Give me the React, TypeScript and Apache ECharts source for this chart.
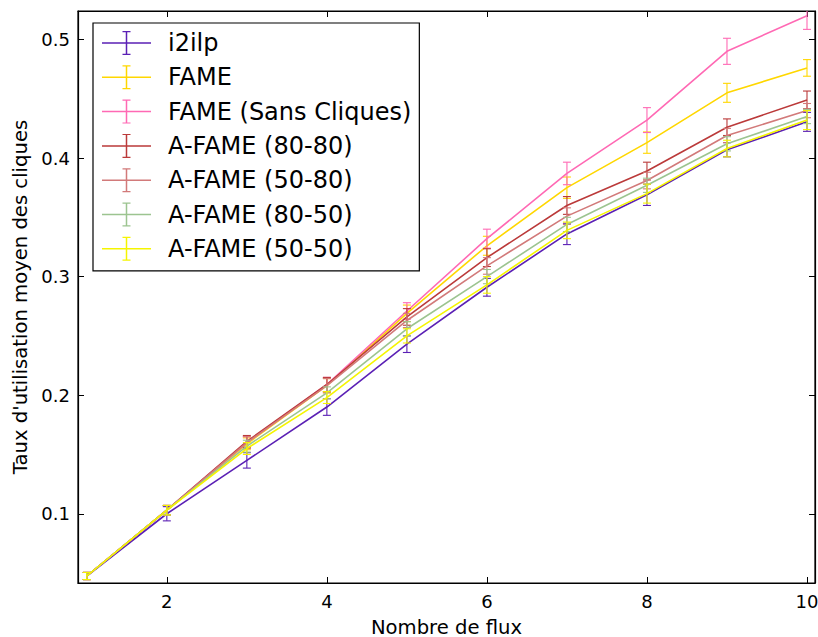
import React, { useEffect, useRef } from "react";
import * as echarts from "echarts";

const flux = [1, 2, 3, 4, 5, 6, 7, 8, 9, 10];
const xTicks = [2, 4, 6, 8, 10];
const yTicks = [0.1, 0.2, 0.3, 0.4, 0.5];

const names = [
  "i2ilp",
  "FAME",
  "FAME (Sans Cliques)",
  "A-FAME (80-80)",
  "A-FAME (50-80)",
  "A-FAME (80-50)",
  "A-FAME (50-50)",
];
const colors = ["#5b20b5", "#ffd700", "#ff69b4", "#bb3a3a", "#d27a7a", "#9cc490", "#f5f500"];

const i2ilp = [0.0475, 0.1, 0.145, 0.19, 0.243, 0.291, 0.336, 0.369, 0.407, 0.4305];
const fame = [0.0475, 0.103, 0.159, 0.208, 0.269, 0.326, 0.375, 0.413, 0.455, 0.476];
const fameSans = [0.0475, 0.103, 0.16, 0.209, 0.271, 0.332, 0.387, 0.432, 0.49, 0.52];
const afame8080 = [0.0475, 0.103, 0.161, 0.209, 0.266, 0.316, 0.36, 0.389, 0.426, 0.449];
const afame5080 = [0.0475, 0.103, 0.16, 0.208, 0.263, 0.309, 0.351, 0.381, 0.419, 0.44];
const afame8050 = [0.0475, 0.103, 0.157, 0.202, 0.256, 0.3, 0.344, 0.377, 0.412, 0.435];
const afame5050 = [0.0475, 0.103, 0.155, 0.198, 0.25, 0.293, 0.339, 0.37, 0.408, 0.432];

const errI2ilp = [0.003, 0.006, 0.0065, 0.007, 0.007, 0.0075, 0.009, 0.009, 0.006, 0.008];
const errFame = [0.003, 0.004, 0.005, 0.006, 0.007, 0.008, 0.009, 0.009, 0.008, 0.007];
const errFameSans = [0.003, 0.004, 0.005, 0.006, 0.007, 0.008, 0.0095, 0.0105, 0.011, 0.0115];
const err8080 = [0.003, 0.004, 0.005, 0.006, 0.007, 0.0075, 0.0075, 0.0075, 0.007, 0.0075];
const err5080 = [0.003, 0.004, 0.005, 0.006, 0.006, 0.007, 0.007, 0.007, 0.006, 0.006];
const err8050 = [0.003, 0.004, 0.005, 0.005, 0.006, 0.006, 0.006, 0.006, 0.006, 0.006];
const err5050 = [0.003, 0.004, 0.005, 0.005, 0.006, 0.007, 0.007, 0.008, 0.007, 0.008];

const means = [i2ilp, fame, fameSans, afame8080, afame5080, afame8050, afame5050];
const errs = [errI2ilp, errFame, errFameSans, err8080, err5080, err8050, err5050];

const FONT = "DejaVu Sans";
const legendIcon =
  "path://M0,11.25 h49 v1.5 h-49 z M23.75,0 h1.5 v24 h-1.5 z M20.5,0 h8 v1.2 h-8 z M20.5,22.8 h8 v1.2 h-8 z";

export default function App() {
  const ref = useRef<HTMLDivElement>(null);
  useEffect(() => {
    if (!ref.current) return;
    const chart = echarts.init(ref.current, undefined, { renderer: "svg" });
    const series: any[] = [];
    names.forEach((name, i) => {
      series.push({
        type: "line",
        name,
        data: flux.map((x, j) => [x, means[i][j]]),
        showSymbol: false,
        symbol: "none",
        lineStyle: { color: colors[i], width: 1.6 },
        itemStyle: { color: colors[i] },
        z: 2 + i,
      });
      series.push({
        type: "custom",
        name,
        clip: true,
        z: 2 + i,
        data: flux.map((x, j) => [x, means[i][j], errs[i][j]]),
        renderItem: (params: any, api: any) => {
          const x = api.value(0);
          const y = api.value(1);
          const e = api.value(2);
          const top = api.coord([x, y + e]);
          const bot = api.coord([x, y - e]);
          const c = colors[i];
          const st = { stroke: c, lineWidth: 1.1 };
          return {
            type: "group",
            children: [
              { type: "line", shape: { x1: top[0], y1: top[1], x2: bot[0], y2: bot[1] }, style: st },
              { type: "line", shape: { x1: top[0] - 4, y1: top[1], x2: top[0] + 4, y2: top[1] }, style: st },
              { type: "line", shape: { x1: bot[0] - 4, y1: bot[1], x2: bot[0] + 4, y2: bot[1] }, style: st },
            ],
          };
        },
      });
    });

    const tickStyle = { show: true, inside: true, length: 6, lineStyle: { color: "#000", width: 1 } };
    const fmtY = (v: number) => v.toFixed(1);

    chart.setOption({
      animation: false,
      backgroundColor: "#fff",
      textStyle: { fontFamily: FONT },
      grid: {
        left: 78,
        top: 11,
        right: 3,
        bottom: 54,
        containLabel: false,
        outerBoundsMode: "none",
        show: true,
        borderColor: "#000",
        borderWidth: 1.2,
        backgroundColor: "transparent",
      },
      legend: {
        orient: "vertical",
        left: 93,
        top: 23,
        padding: [8, 8, 10, 9],
        itemWidth: 49,
        itemHeight: 24,
        itemGap: 10.3,
        borderColor: "#000",
        borderWidth: 1.2,
        backgroundColor: "#fff",
        borderRadius: 0,
        textStyle: { fontFamily: FONT, fontSize: 24, color: "#000", padding: [0, 0, 0, 12] },
        data: names.map((n, i) => ({ name: n, icon: legendIcon, itemStyle: { color: colors[i] } })),
      },
      xAxis: [
        {
          type: "value",
          min: 0.89,
          max: 10.1,
          position: "bottom",
          name: "Nombre de flux",
          nameLocation: "middle",
          nameGap: 34,
          nameTextStyle: { fontFamily: FONT, fontSize: 19.6, color: "#000" },
          splitLine: { show: false },
          axisLine: { show: true, lineStyle: { color: "#000", width: 1.2 } },
          axisTick: { ...tickStyle, customValues: xTicks },
          axisLabel: {
            customValues: xTicks,
            fontFamily: FONT,
            fontSize: 18,
            color: "#000",
            margin: 9,
          },
        },
        {
          type: "value",
          min: 0.89,
          max: 10.1,
          position: "top",
          splitLine: { show: false },
          axisLine: { show: true, lineStyle: { color: "#000", width: 1.2 } },
          axisTick: { ...tickStyle, customValues: xTicks },
          axisLabel: { show: false },
        },
      ],
      yAxis: [
        {
          type: "value",
          min: 0.0416,
          max: 0.524,
          position: "left",
          name: "Taux d'utilisation moyen des cliques",
          nameLocation: "middle",
          nameGap: 46,
          nameTextStyle: { fontFamily: FONT, fontSize: 19.6, color: "#000" },
          splitLine: { show: false },
          axisLine: { show: true, lineStyle: { color: "#000", width: 1.2 } },
          axisTick: { ...tickStyle, customValues: yTicks },
          axisLabel: {
            customValues: yTicks,
            formatter: fmtY,
            fontFamily: FONT,
            fontSize: 18,
            color: "#000",
            margin: 8,
          },
        },
        {
          type: "value",
          min: 0.0416,
          max: 0.524,
          position: "right",
          splitLine: { show: false },
          axisLine: { show: true, lineStyle: { color: "#000", width: 1.2 } },
          axisTick: { ...tickStyle, customValues: yTicks },
          axisLabel: { show: false },
        },
      ],
      series,
    });
    return () => chart.dispose();
  }, []);
  return (
    <div
      ref={ref}
      style={{ position: "fixed", left: 0, top: 0, width: 818, height: 637, background: "#fff" }}
    />
  );
}
